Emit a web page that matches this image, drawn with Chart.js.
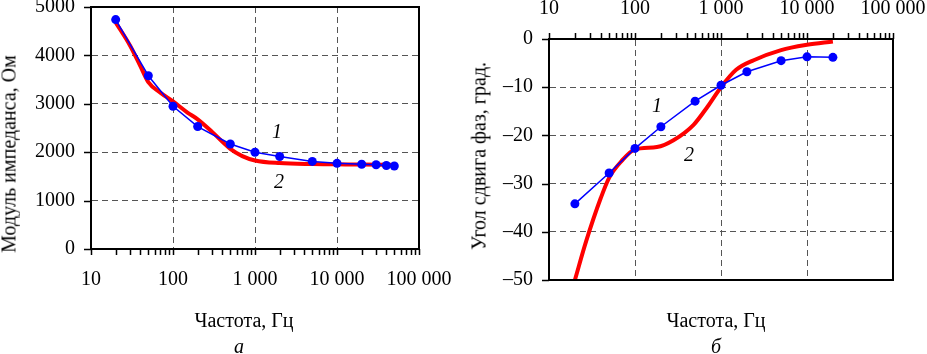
<!DOCTYPE html>
<html lang="ru">
<head>
<meta charset="utf-8">
<title>Импеданс и угол сдвига фаз</title>
<script src="https://cdn.jsdelivr.net/npm/chart.js@4.4.0/dist/chart.umd.min.js"></script>
<style>
    body {
        margin: 0;
        background: #fff;
        width: 927px;
        height: 354px;
        position: relative;
        overflow: hidden;
        font-family: "Liberation Serif", "Times New Roman", serif;
    }
    canvas { position: absolute; top: 0; }
    #chartA { left: 0; }
    #chartB { left: 460px; }
    .txt {
        position: absolute;
        font-size: 20px;
        white-space: nowrap;
        color: #000;
        transform: translate(-50%, -50%);
    }
    .rot { transform: translate(-50%, -50%) rotate(-90deg); }
    .it { font-style: italic; }
</style>
</head>
<body>
<canvas id="chartA" width="460" height="354"></canvas>
<canvas id="chartB" width="467" height="354"></canvas>

<div class="txt rot" style="left:9px; top:154px;">Модуль импеданса, Ом</div>
<div class="txt" style="left:244px; top:320px;">Частота, Гц</div>
<div class="txt it" style="left:239px; top:346px;">а</div>

<div class="txt rot" style="left:479px; top:156px;">Угол сдвига фаз, град.</div>
<div class="txt" style="left:716px; top:320px;">Частота, Гц</div>
<div class="txt it" style="left:716px; top:346px;">б</div>

<script>
// Частоты декад и подписи оси X
const decades = [10, 100, 1000, 10000, 100000];
const decadeLabels = ['10', '100', '1 000', '10 000', '100 000'];

// а) модуль импеданса, Ом
const freqBlueA = [20, 50, 100, 200, 500, 1000, 2000, 5000, 10000, 20000, 30000, 40000, 50000];
const impedanceBlue = [4740, 3580, 2950, 2530, 2170, 2000, 1910, 1810, 1770, 1750, 1740, 1725, 1715];
const freqRedA = [20, 30, 40, 50, 70, 100, 150, 200, 300, 500, 700, 1000, 2000, 5000, 10000, 20000, 50000];
const impedanceRed = [4680, 4200, 3780, 3450, 3230, 3050, 2820, 2680, 2420, 2070, 1920, 1830, 1775, 1755, 1750, 1745, 1735];
const impedanceTicks = [0, 1000, 2000, 3000, 4000, 5000];

// б) угол сдвига фаз, град.
const freqBlueB = [20, 50, 100, 200, 500, 1000, 2000, 5000, 10000, 20000];
const phaseBlue = [-34.2, -27.8, -22.7, -18.2, -12.9, -9.6, -6.8, -4.5, -3.7, -3.8];
const freqRedB = [20, 27, 40, 50, 70, 100, 180, 280, 480, 700, 1000, 1500, 2400, 5000, 10000, 20000];
const phaseRed = [-50, -42, -33, -28.8, -25.3, -22.9, -22.4, -21, -17.8, -14, -10, -6.4, -4.4, -2.3, -1.2, -0.5];
const phaseTicks = [-50, -40, -30, -20, -10, 0];

// Номера кривых (положение в координатах данных)
const curveLabelsA = [{ text: '1', x: 1850, y: 2400 }, { text: '2', x: 1960, y: 1360 }];
const curveLabelsB = [{ text: '1', x: 180, y: -14.1 }, { text: '2', x: 425, y: -24.3 }];

const FONT = { family: '"Liberation Serif", "Times New Roman", serif', size: 20 };
const GRID = '#555';
const X_TICK = 6;
const Y_TICK = 7;

// все деления логарифмической оси: 10, 20, ... 90, 100, 200, ...
const logTicks = [];
for (let d = 0; d < decades.length - 1; d++) {
    for (let m = 1; m <= 9; m++) logTicks.push(decades[d] * m);
}
logTicks.push(decades[decades.length - 1]);

function toPoints(xs, ys) {
    return xs.map((x, i) => ({ x: x, y: ys[i] }));
}

function freqLabel(v) {
    const i = decades.indexOf(v);
    return i >= 0 ? decadeLabels[i] : '';
}

// рамка, засечки снаружи и номера кривых
const boxAndLabels = {
    id: 'boxAndLabels',
    afterDraw(chart, args, opts) {
        const { ctx, chartArea: a, scales } = chart;
        const sx = scales.x, sy = scales.y;
        ctx.save();
        ctx.strokeStyle = '#000';
        ctx.lineWidth = 1.5;
        ctx.beginPath();
        sx.ticks.forEach(t => {
            const px = Math.round(sx.getPixelForValue(t.value)) + 0.5;
            if (sx.options.position === 'top') {
                ctx.moveTo(px, a.top - X_TICK);
                ctx.lineTo(px, a.top);
            } else {
                ctx.moveTo(px, a.bottom);
                ctx.lineTo(px, a.bottom + X_TICK);
            }
        });
        sy.ticks.forEach(t => {
            const py = Math.round(sy.getPixelForValue(t.value)) + 0.5;
            ctx.moveTo(a.left - Y_TICK, py);
            ctx.lineTo(a.left, py);
        });
        ctx.stroke();

        ctx.lineWidth = 2;
        ctx.strokeRect(a.left, a.top, a.right - a.left, a.bottom - a.top);

        ctx.font = 'italic 20px "Liberation Serif", serif';
        ctx.fillStyle = '#000';
        ctx.textAlign = 'center';
        ctx.textBaseline = 'middle';
        (opts.labels || []).forEach(l => {
            ctx.fillText(l.text, sx.getPixelForValue(l.x), sy.getPixelForValue(l.y));
        });
        ctx.restore();
    }
};

function xScale(position, height, padding) {
    return {
        type: 'logarithmic',
        position: position,
        min: 10,
        max: 100000,
        afterBuildTicks: s => {
            s.ticks = logTicks.map(v => ({ value: v, major: decades.includes(v) }));
        },
        afterFit: s => {
            s.paddingLeft = 0;
            s.paddingRight = 0;
            s.height = height;
        },
        ticks: {
            autoSkip: false, maxRotation: 0, minRotation: 0,
            padding: padding, font: FONT, color: '#000',
            callback: v => freqLabel(v)
        },
        grid: {
            color: c => (c.tick && decades.includes(c.tick.value) && c.tick.value > 10 && c.tick.value < 100000) ? GRID : 'rgba(0,0,0,0)',
            tickColor: 'rgba(0,0,0,0)',
            tickLength: X_TICK,
            lineWidth: 1
        },
        border: { color: '#000', width: 2, dash: [6, 4] }
    };
}

function yScale(min, max, width, tickValues, fmt) {
    return {
        type: 'linear',
        min: min,
        max: max,
        afterBuildTicks: s => {
            s.ticks = tickValues.map(v => ({ value: v }));
        },
        afterFit: s => {
            s.paddingTop = 0;
            s.paddingBottom = 0;
            s.width = width;
        },
        ticks: { padding: 9, font: FONT, color: '#000', callback: fmt },
        grid: {
            color: c => (c.tick && c.tick.value > min && c.tick.value < max) ? GRID : 'rgba(0,0,0,0)',
            tickColor: 'rgba(0,0,0,0)',
            tickLength: Y_TICK,
            lineWidth: 1
        },
        border: { color: '#000', width: 2, dash: [6, 4] }
    };
}

function blueSet(points) {
    return {
        label: '1',
        data: points,
        borderColor: '#0000ff',
        backgroundColor: '#0000ff',
        borderWidth: 1.5,
        pointRadius: 4.5,
        pointBorderWidth: 0,
        tension: 0
    };
}

function redSet(points) {
    return {
        label: '2',
        data: points,
        borderColor: '#ff0000',
        borderWidth: 4,
        pointRadius: 0,
        cubicInterpolationMode: 'monotone'
    };
}

function crearGrafico(id, datasets, scales, padding, labels) {
    return new Chart(document.getElementById(id), {
        type: 'line',
        data: { datasets: datasets },
        options: {
            responsive: false,
            animation: false,
            devicePixelRatio: 1,
            layout: { padding: padding },
            scales: scales,
            plugins: {
                legend: { display: false },
                tooltip: { enabled: false },
                boxAndLabels: { labels: labels }
            }
        },
        plugins: [boxAndLabels]
    });
}

crearGrafico('chartA',
    [blueSet(toPoints(freqBlueA, impedanceBlue)), redSet(toPoints(freqRedA, impedanceRed))],
    {
        x: xScale('bottom', 105, 13),
        y: yScale(0, 5000, 91, impedanceTicks, v => String(v))
    },
    { left: 0, top: 7, right: 41, bottom: 0 },
    curveLabelsA);

crearGrafico('chartB',
    [blueSet(toPoints(freqBlueB, phaseBlue)), redSet(toPoints(freqRedB, phaseRed))],
    {
        x: xScale('top', 39, 12),
        y: yScale(-50, 0, 89, phaseTicks, v => v < 0 ? '–' + Math.abs(v) : String(v))
    },
    { left: 0, top: 0, right: 34, bottom: 74 },
    curveLabelsB);
</script>
</body>
</html>
